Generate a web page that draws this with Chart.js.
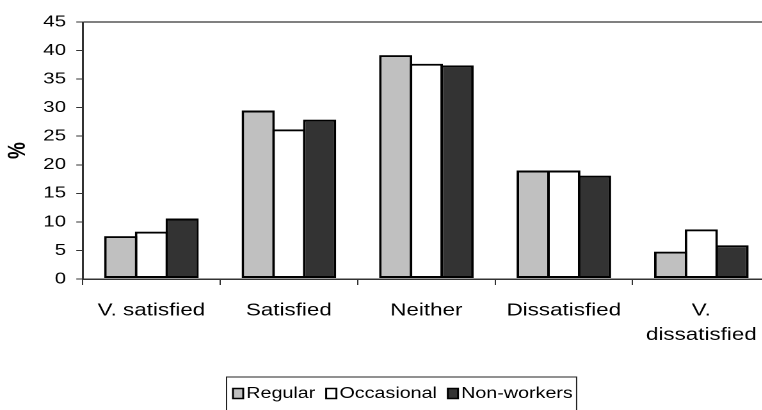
<!DOCTYPE html>
<html>
<head>
<meta charset="utf-8">
<script src="https://cdn.jsdelivr.net/npm/chart.js@4.4.1/dist/chart.umd.min.js"></script>
<style>
  html, body { margin: 0; padding: 0; overflow: hidden; background: #fff; }
  /* the reference is stretched sideways, so the chart is drawn narrow and widened */
  #wrap { width: 606px; height: 420px; transform: scaleX(1.28); transform-origin: 0 0; }
</style>
</head>
<body>
<div id="wrap"><canvas id="c" width="606" height="420"></canvas></div>
<script>
const categories = ['V. satisfied', 'Satisfied', 'Neither', 'Dissatisfied', ['V.', 'dissatisfied']];
const regular = [7.5, 29.5, 39.2, 19.0, 4.8];
const occasional = [8.3, 26.2, 37.7, 19.0, 8.7];
const nonWorkers = [10.6, 27.9, 37.4, 18.1, 5.9];
const yMax = 45;
const yStep = 5;

Chart.defaults.font.family = '"Liberation Sans", Arial, sans-serif';
Chart.defaults.color = '#000';

// legend drawn as a bordered box under the axis, like the original
const boxLegend = {
    id: 'boxLegend',
    afterDraw(chart) {
        const ctx = chart.ctx;
        const top = chart.chartArea.bottom + 98;
        const midY = top + 16.5;
        const left = 177;
        let x = 182;
        ctx.save();
        ctx.font = '15.4px "Liberation Sans", Arial, sans-serif';
        ctx.textBaseline = 'middle';
        chart.data.datasets.forEach((ds, i) => {
            if (i > 0) x += 8.5;
            ctx.lineWidth = 1.5;
            ctx.strokeStyle = '#000';
            ctx.fillStyle = ds.backgroundColor;
            ctx.fillRect(x, midY - 5, 8, 10);
            ctx.strokeRect(x, midY - 5, 8, 10);
            x += 10.4;
            ctx.fillStyle = '#000';
            ctx.fillText(ds.label, x, midY);
            x += ctx.measureText(ds.label).width;
        });
        ctx.lineWidth = 1;
        ctx.strokeStyle = '#222';
        ctx.strokeRect(left, top, x + 3 - left, 40);
        ctx.restore();
    }
};

const common = {
    borderColor: '#000',
    borderWidth: 2,
    borderSkipped: false,
    categoryPercentage: 0.67,
    barPercentage: 1.08, // neighbours overlap so shared edges look single
};

new Chart(document.getElementById('c'), {
    type: 'bar',
    data: {
        labels: categories,
        datasets: [
            { label: 'Regular', data: regular, backgroundColor: '#c0c0c0', ...common },
            { label: 'Occasional', data: occasional, backgroundColor: '#ffffff', ...common },
            { label: 'Non-workers', data: nonWorkers, backgroundColor: '#333333', ...common },
        ],
    },
    options: {
        responsive: false,
        animation: false,
        devicePixelRatio: 2,
        layout: { padding: { top: 22, right: 4.4, bottom: 41, left: 0 } },
        plugins: {
            legend: { display: false },
            tooltip: { enabled: false },
        },
        scales: {
            x: {
                grid: {
                    offset: true,
                    drawOnChartArea: false,
                    tickLength: 6,
                    tickColor: '#333',
                    tickWidth: 1,
                },
                border: { color: '#333', width: 1.5 },
                ticks: {
                    font: { size: 17.5, lineHeight: 1.4 },
                    padding: 13.3,
                    maxRotation: 0,
                    autoSkip: false,
                },
                afterFit(scale) {
                    scale.height = 100;
                    scale.paddingLeft = 0;
                    scale.paddingRight = 0;
                },
            },
            y: {
                min: 0,
                max: yMax,
                ticks: { stepSize: yStep, font: { size: 16 }, padding: 8 },
                grid: {
                    // only the top edge of the plot frame is shown
                    color: (c) => (c.tick && c.tick.value === yMax ? '#808080' : 'rgba(0,0,0,0)'),
                    lineWidth: 2,
                    tickLength: 5,
                    tickColor: '#333',
                    tickWidth: 1,
                },
                border: { color: '#333', width: 1.5 },
                title: {
                    display: true,
                    text: '%',
                    font: { size: 19, weight: 'bold' },
                    padding: { top: 3, bottom: 0 },
                },
                afterFit(scale) {
                    scale.width = 64.6;
                },
            },
        },
    },
    plugins: [boxLegend],
});
</script>
</body>
</html>
